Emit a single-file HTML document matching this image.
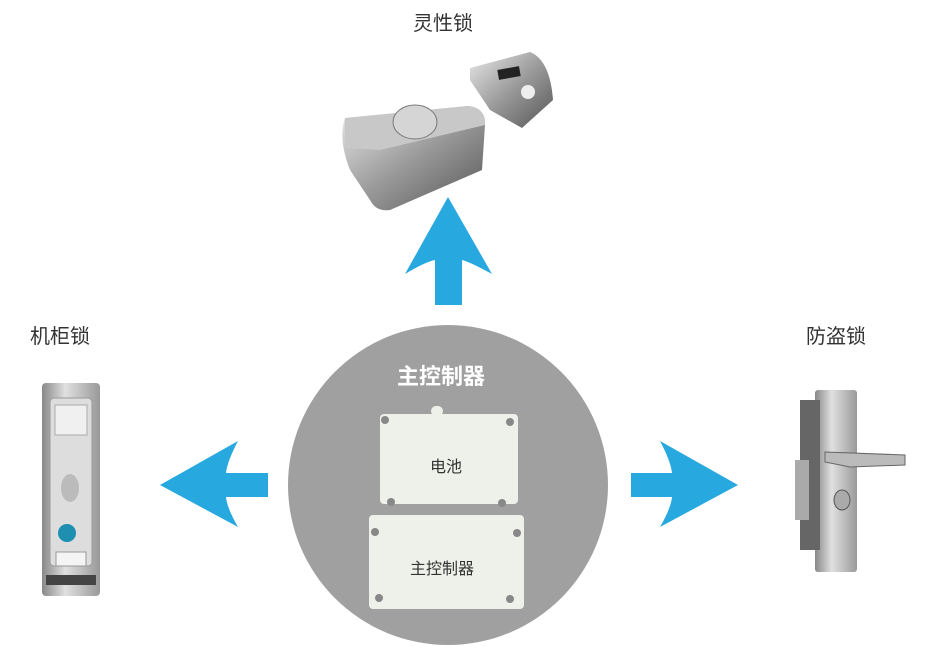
<!DOCTYPE html>
<html><head><meta charset="utf-8"><style>
body{margin:0;width:937px;height:672px;background:#fff;overflow:hidden;position:relative;font-family:"Liberation Sans","Noto Sans CJK SC",sans-serif}
.t{position:absolute;font-size:20px;color:#333}
</style></head><body>
<svg width="937" height="672" style="position:absolute;left:0;top:0">
<defs>
<linearGradient id="m" x1="0" y1="0" x2="1" y2="1"><stop offset="0" stop-color="#e8e8e8"/><stop offset=".5" stop-color="#9a9a9a"/><stop offset="1" stop-color="#555"/></linearGradient>
<linearGradient id="m2" x1="0" y1="0" x2="1" y2="0"><stop offset="0" stop-color="#888"/><stop offset=".4" stop-color="#e0e0e0"/><stop offset="1" stop-color="#999"/></linearGradient>
</defs>
<circle cx="448" cy="485" r="160" fill="#a0a0a0"/>
<path fill="#27a8df" d="M448 197 L492 274 Q470 262 462 260 L462 305 L435 305 L435 260 Q425 262 405 274 Z"/>
<path fill="#27a8df" d="M160 485 L238 441 Q227 462 226 473 L268 473 L268 497 L226 497 Q227 508 238 527 Z"/>
<path fill="#27a8df" d="M738 485 L660 441 Q671 462 672 473 L631 473 L631 497 L672 497 Q671 508 660 527 Z"/>
<rect x="380" y="414" width="138" height="90" rx="4" fill="#eef0ea"/>
<rect x="431" y="406" width="12" height="10" rx="5" fill="#eef0ea"/>
<rect x="369" y="515" width="155" height="94" rx="4" fill="#eef0ea"/>
<circle cx="385" cy="420" r="4" fill="#888"/><circle cx="510" cy="422" r="4" fill="#888"/>
<circle cx="391" cy="502" r="4" fill="#888"/><circle cx="502" cy="503" r="4" fill="#888"/>
<circle cx="375" cy="532" r="4" fill="#888"/><circle cx="517" cy="533" r="4" fill="#888"/>
<circle cx="379" cy="598" r="4" fill="#888"/><circle cx="510" cy="599" r="4" fill="#888"/>
<!-- top lock -->
<path d="M345 118 L468 106 Q486 108 485 125 L482 170 L390 210 Q376 212 370 200 L350 170 Q338 140 345 118 Z" fill="url(#m)"/>
<path d="M345 118 L468 106 Q486 108 485 125 L380 150 L345 148 Z" fill="#c8c8c8"/>
<ellipse cx="415" cy="122" rx="22" ry="17" fill="#d5d5d5" stroke="#777"/>
<path d="M470 68 L530 52 Q550 60 553 100 L522 128 L490 110 L470 80 Z" fill="url(#m)"/>
<rect x="498" y="68" width="22" height="10" fill="#222" transform="rotate(-10 509 73)"/>
<circle cx="528" cy="92" r="7" fill="#eee"/>
<!-- left cabinet lock -->
<rect x="42" y="383" width="58" height="213" rx="4" fill="url(#m2)"/>
<rect x="50" y="398" width="42" height="168" rx="4" fill="#ddd" stroke="#999"/>
<rect x="55" y="405" width="32" height="30" fill="#f0f0f0" stroke="#aaa"/>
<ellipse cx="70" cy="488" rx="9" ry="14" fill="#bbb"/>
<circle cx="67" cy="533" r="9" fill="#1e8fb0"/>
<rect x="56" y="552" width="30" height="14" fill="#f5f5f5" stroke="#999"/>
<rect x="46" y="575" width="50" height="10" fill="#444"/>
<!-- right door lock -->
<rect x="815" y="390" width="42" height="182" rx="3" fill="url(#m2)"/>
<rect x="800" y="400" width="20" height="150" fill="#666"/>
<rect x="795" y="460" width="14" height="60" fill="#aaa"/>
<path d="M825 452 L905 455 L905 465 L850 467 L825 462 Z" fill="#bbb" stroke="#666"/>
<ellipse cx="842" cy="500" rx="8" ry="10" fill="#aaa" stroke="#555"/>
</svg>
<div class="t" style="left:413px;top:7px">灵性锁</div>
<div class="t" style="left:30px;top:320px">机柜锁</div>
<div class="t" style="left:806px;top:320px">防盗锁</div>
<div class="t" style="left:397px;top:359px;color:#fff;font-weight:bold;font-size:22px">主控制器</div>
<div class="t" style="left:430px;top:453px;font-size:16px">电池</div>
<div class="t" style="left:410px;top:555px;font-size:16px">主控制器</div>
</body></html>
